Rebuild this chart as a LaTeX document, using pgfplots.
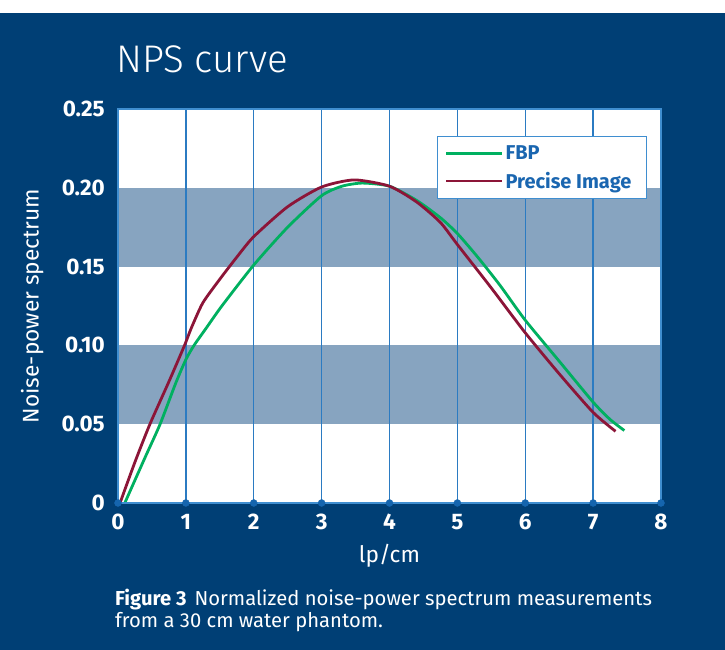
\documentclass[border=0pt]{standalone}
\usepackage{fontspec}
\setmainfont{Fira Sans}
\newfontfamily\titlefont{Fira Sans Light}
\usepackage{graphicx}
\usepackage{pgfplots}
\pgfplotsset{compat=1.18}
\definecolor{bg}{HTML}{003F75}
\definecolor{band}{HTML}{87A4C0}
\definecolor{gridblue}{HTML}{2B7BC2}
\definecolor{axblue}{HTML}{3F8ED0}
\definecolor{dotblue}{HTML}{1565AE}
\definecolor{fbp}{HTML}{00B060}
\definecolor{pim}{HTML}{8C1538}
\definecolor{legblue}{HTML}{1A66B0}
\begin{document}
\begin{tikzpicture}[x=1pt,y=1pt]
\fill[bg] (0,0) rectangle (725,637);
\fill[white] (0,637) rectangle (725,650);
\useasboundingbox (0,0) rectangle (725,650);
\node[anchor=base west, text=white, inner sep=0pt, font=\titlefont\fontsize{38.5}{46}\selectfont] at (116,577) {NPS curve};
\begin{axis}[
  at={(118pt,147pt)}, anchor=south west,
  scale only axis, width=543pt, height=394pt,
  xmin=0, xmax=8, ymin=0, ymax=0.25,
  clip=false, axis on top,
  axis background/.style={fill=white},
  axis line style={axblue, line width=1.6pt},
  xtick={0,1,2,3,4,5,6,7,8},
  xticklabels={0,1,2,3,4,5,6,7,8},
  ytick={0,0.05,0.1,0.15,0.2,0.25},
  yticklabels={0,0.05,0.10,0.15,0.20,0.25},
  major tick length=0pt,
  tick style={draw=none},
  ticklabel style={text=white, font=\fontsize{22.5}{26}\selectfont\bfseries},
  yticklabel style={anchor=east, inner sep=0pt, xshift=-13pt},
  xticklabel style={anchor=north, inner sep=0pt, yshift=-11pt},
  xlabel={lp/cm},
  ylabel={Noise-power spectrum},
  label style={text=white, font=\fontsize{22.7}{26}\selectfont},
  xlabel style={at={(axis description cs:0.5,-0.135)}, anchor=center},
  ylabel style={at={(axis description cs:-0.158,0.5)}, anchor=center},
  legend style={at={(0.974,0.931)}, anchor=north east, draw=axblue, line width=1pt,
    fill=white, text=legblue, font=\fontsize{20}{24}\selectfont\bfseries,
    inner xsep=7pt, inner ysep=7pt, row sep=7pt},
  legend cell align=left,
  legend image code/.code={\draw[#1] (0pt,0pt) -- (50pt,0pt); \path (0pt,0pt) -- (56pt,0pt);},
]
\addplot[draw=none, fill=band, forget plot] coordinates {(0,0.05) (0,0.10) (8,0.10) (8,0.05)};
\addplot[draw=none, fill=band, forget plot] coordinates {(0,0.15) (0,0.20) (8,0.20) (8,0.15)};
\addplot[ycomb, gridblue, line width=1.3pt, mark=none, forget plot] coordinates {(1,0.25) (2,0.25) (3,0.25) (4,0.25) (5,0.25) (6,0.25) (7,0.25)};
\addplot[fbp, line width=2.8pt, smooth, tension=0.4] coordinates {
(0.10,0.000) (0.40,0.029) (0.62,0.050) (0.85,0.076) (1.00,0.091) (1.12,0.100)
(1.30,0.111) (1.53,0.125) (2.00,0.151) (2.50,0.175) (3.00,0.195) (3.30,0.201)
(3.60,0.203) (4.00,0.201) (4.40,0.192) (4.75,0.181) (5.00,0.171) (5.30,0.156)
(5.63,0.138) (6.00,0.116) (6.50,0.090) (7.00,0.064) (7.25,0.053) (7.46,0.046)};
\addlegendentry{FBP}
\addplot[pim, line width=2.8pt, smooth, tension=0.4] coordinates {
(0.03,0.000) (0.25,0.026) (0.47,0.050) (0.75,0.077) (0.98,0.100) (1.08,0.111)
(1.25,0.127) (1.50,0.142) (1.75,0.156) (2.00,0.169) (2.50,0.188) (3.00,0.2005) (3.48,0.205)
(4.00,0.201) (4.40,0.191) (4.75,0.178) (5.00,0.164) (5.49,0.137) (6.00,0.108)
(6.50,0.082) (7.00,0.0575) (7.33,0.0455)};
\addlegendentry{Precise Image\hspace*{6pt}}
\addplot[only marks, mark=*, mark size=3.5pt, dotblue, forget plot] coordinates {(0,0) (1,0) (2,0) (3,0) (4,0) (5,0) (6,0) (7,0) (8,0)};
\end{axis}
\node[anchor=base west, text=white, inner sep=0pt, font=\fontsize{20.2}{24}\selectfont] at (115,44) {\textbf{Figure 3}\hspace{8pt}Normalized noise-power spectrum measurements};
\node[anchor=base west, text=white, inner sep=0pt, font=\fontsize{20.2}{24}\selectfont] at (115,22) {from a 30 cm water phantom.};
\end{tikzpicture}
\end{document}
